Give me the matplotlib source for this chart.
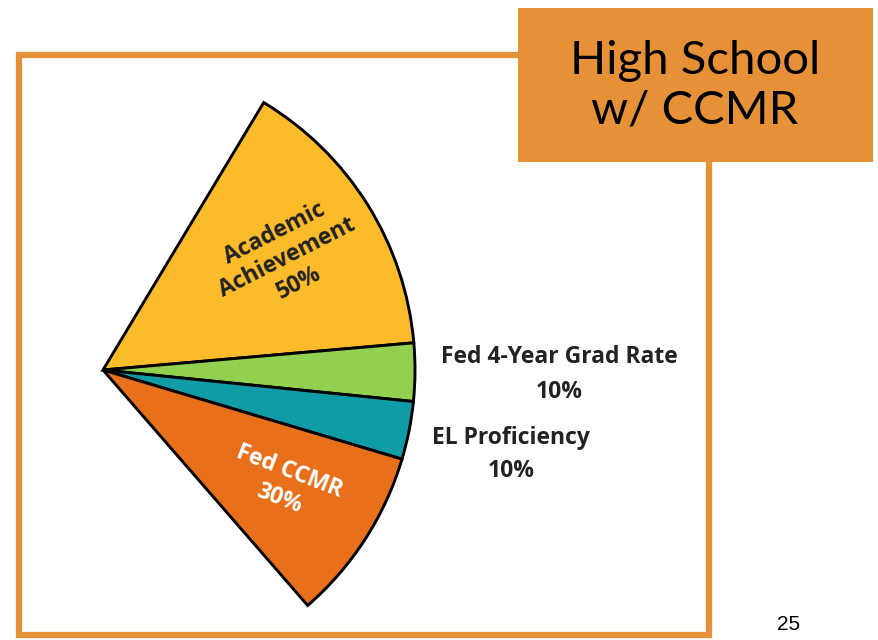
#!/usr/bin/env python3
import matplotlib
matplotlib.use('agg')

import matplotlib.pyplot as plt
from matplotlib.patches import Wedge, Rectangle

# weights of the high school accountability components
components = ["Academic\nAchievement", "Fed 4-Year Grad Rate", "EL Proficiency", "Fed CCMR"]
weights = [50, 10, 10, 30]
colors = ["#FCBB2A", "#92D050", "#109CA6", "#E8701A"]

W, H = 879, 640
fig = plt.figure(figsize=(W / 100, H / 100), dpi=100)
ax = fig.add_axes([0, 0, 1, 1])
ax.set_xlim(0, W)
ax.set_ylim(0, H)
ax.set_aspect('equal')
ax.axis('off')

orange = "#E69138"

# slide frame
ax.add_patch(Rectangle((19, 5), 690, 580, fill=False, ec=orange, lw=4.5))

# fan chart: the whole fan spans 108 degrees (30% of a full circle)
apex = (103, H - 370)
radius = 312
deg_per_pct = 1.08
start = 59.0
angle = start
for w, c in zip(weights, colors):
    t2 = angle
    t1 = angle - w * deg_per_pct
    ax.add_patch(Wedge(apex, radius, t1, t2, fc=c, ec="black", lw=2.1, joinstyle='miter'))
    angle = t1

lab_font = dict(family=["Open Sans", "DejaVu Sans"], fontweight="bold")

ax.text(287, H - 258, "Academic\nAchievement\n50%", rotation=27, ha="center", va="center",
        fontsize=16.5, color="#222222", linespacing=1.2, **lab_font)
ax.text(284, H - 485, "Fed CCMR\n30%", rotation=-21, ha="center", va="center",
        fontsize=16.5, color="white", linespacing=1.25, **lab_font)

ax.text(559, H - 357, "Fed 4-Year Grad Rate", ha="center", va="center",
        fontsize=16.5, color="#222222", **lab_font)
ax.text(559, H - 392, "10%", ha="center", va="center",
        fontsize=16.5, color="#222222", **lab_font)
ax.text(511, H - 438, "EL Proficiency", ha="center", va="center",
        fontsize=16.5, color="#222222", **lab_font)
ax.text(511, H - 471, "10%", ha="center", va="center",
        fontsize=16.5, color="#222222", **lab_font)

# title box
ax.add_patch(Rectangle((518, H - 162), 355, 154, fc=orange, ec="none"))
ax.text(695, H - 86, "High School\nw/ CCMR", ha="center", va="center",
        fontsize=34, family=["Lato", "DejaVu Sans"], color="black", linespacing=1.22)

# page number
ax.text(789, H - 624, "25", ha="center", va="center", fontsize=15,
        family=["Liberation Sans", "DejaVu Sans"], color="black")

fig.savefig("out.png", dpi=100)
